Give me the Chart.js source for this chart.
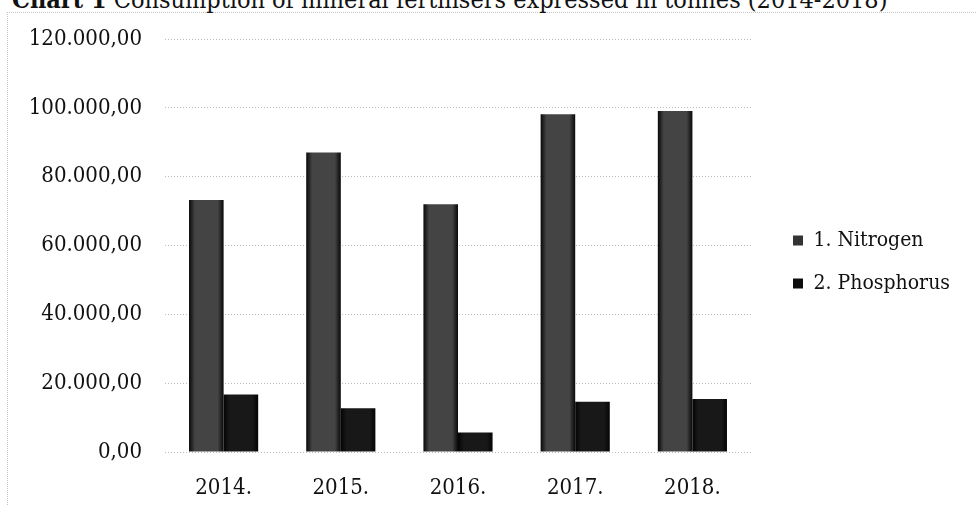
<!DOCTYPE html>
<html>
<head>
<meta charset="utf-8">
<script src="https://cdn.jsdelivr.net/npm/chart.js@4.4.0/dist/chart.umd.min.js"></script>
<style>
  html, body { margin: 0; padding: 0; background: #fff; overflow: hidden; }
  #wrap { position: relative; width: 977px; height: 505px; overflow: hidden; background: #fff; }
  #frame { position: absolute; left: 7px; top: 12px; width: 990px; height: 520px;
           border-left: 1px dotted #c4c4c4; border-top: 1px dotted #c4c4c4; }
  #title { position: absolute; left: 12px; top: -13px; font-family: "DejaVu Serif Condensed", "Liberation Serif", serif;
           font-size: 25px; line-height: 25px; white-space: nowrap; color: #111; }
  #chart { position: absolute; left: 0; top: 0; }
</style>
</head>
<body>
<div id="wrap">
  <div id="frame"></div>
  <div id="title"><b>Chart 1</b> Consumption of mineral fertilisers expressed in tonnes (2014-2018)</div>
  <canvas id="chart" width="977" height="505"></canvas>
</div>
<script>
const FONT_FAMILY = '"DejaVu Serif Condensed", "Liberation Serif", serif';

const categories = ['2014.', '2015.', '2016.', '2017.', '2018.'];
const seriesNames = ['1. Nitrogen', '2. Phosphorus'];
const nitrogen = [73200, 87000, 72000, 98100, 99100];
const phosphorus = [16700, 12700, 5700, 14600, 15400];
const yTickValues = [0, 20000, 40000, 60000, 80000, 100000, 120000];
const yTickLabels = ['0,00', '20.000,00', '40.000,00', '60.000,00', '80.000,00', '100.000,00', '120.000,00'];

const CAT_PCT = 0.59;
const legendColors = ['#333333', '#0e0e0e'];

function barGradient(ctx, dsIndex, edge, mid) {
  const chart = ctx.chart;
  const xs = chart.scales && chart.scales.x;
  if (!xs || !chart.chartArea || ctx.dataIndex === undefined) return mid;
  const center = xs.getPixelForValue(ctx.dataIndex);
  const catW = xs.width / categories.length * CAT_PCT;
  const left = center - catW / 2 + dsIndex * catW / 2;
  const g = chart.ctx.createLinearGradient(left, 0, left + catW / 2, 0);
  g.addColorStop(0, edge);
  g.addColorStop(0.17, mid);
  g.addColorStop(0.83, mid);
  g.addColorStop(1, edge);
  return g;
}

// Moves the legend box after layout: a gap to the plot area and a small lift.
const legendPlace = {
  id: 'legendPlace',
  afterLayout(chart) {
    const lg = chart.legend;
    if (!lg || !chart.chartArea) return;
    lg.left = chart.chartArea.right + 20;
    lg.right = chart.width;
    lg.width = lg.right - lg.left;
    lg.top -= 10;
    lg.bottom -= 10;
  }
};

const chart = new Chart(document.getElementById('chart'), {
  type: 'bar',
  data: {
    labels: categories,
    datasets: [
      {
        label: seriesNames[0],
        data: nitrogen,
        backgroundColor: (c) => barGradient(c, 0, '#080808', '#444444'),
        borderWidth: 0,
        categoryPercentage: CAT_PCT,
        barPercentage: 1.0
      },
      {
        label: seriesNames[1],
        data: phosphorus,
        backgroundColor: (c) => barGradient(c, 1, '#040404', '#181818'),
        borderWidth: 0,
        categoryPercentage: CAT_PCT,
        barPercentage: 1.0
      }
    ]
  },
  plugins: [legendPlace],
  options: {
    responsive: false,
    animation: false,
    layout: { padding: { left: 7, top: 39, right: 46, bottom: 0 } },
    plugins: {
      title: { display: false },
      tooltip: { enabled: false },
      legend: {
        position: 'right',
        align: 'center',
        maxWidth: 180,
        labels: {
          boxWidth: 10,
          boxHeight: 10,
          padding: 22,
          color: '#111',
          font: { family: FONT_FAMILY, size: 21 },
          generateLabels(ch) {
            const items = Chart.defaults.plugins.legend.labels.generateLabels(ch);
            items.forEach((it, i) => { it.fillStyle = legendColors[i]; it.strokeStyle = legendColors[i]; it.lineWidth = 0; });
            return items;
          }
        }
      }
    },
    scales: {
      x: {
        grid: { display: false },
        border: { display: false },
        ticks: { color: '#111', padding: 15, font: { family: FONT_FAMILY, size: 22 } },
        afterFit(s) { s.height = 53; }
      },
      y: {
        min: 0,
        max: 120000,
        grid: { color: '#bdbdbd', drawTicks: false, lineWidth: 1 },
        border: { display: false, dash: [1, 2] },
        afterBuildTicks(s) { s.ticks = yTickValues.map(v => ({ value: v })); },
        ticks: {
          color: '#111',
          padding: 23,
          font: { family: FONT_FAMILY, size: 22 },
          callback: (v) => yTickLabels[yTickValues.indexOf(v)]
        },
        afterFit(s) { s.width = 158; }
      }
    }
  }
});
chart.update('none');
</script>
</body>
</html>
